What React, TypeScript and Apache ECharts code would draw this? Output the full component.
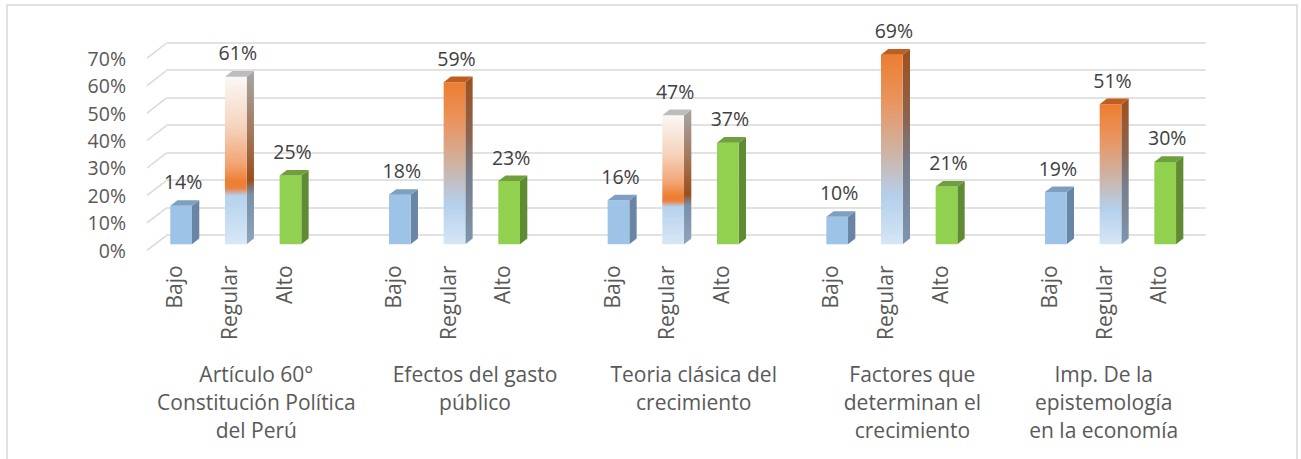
import React, { useEffect, useRef } from "react";
import * as echarts from "echarts";

// ---- data ----
const groups = [
  "Artículo 60°\nConstitución Política\ndel Perú",
  "Efectos del gasto\npúblico",
  "Teoria clásica del\ncrecimiento",
  "Factores que\ndeterminan el\ncrecimiento",
  "Imp. De la\nepistemología\nen la economía",
];
const levels = ["Bajo", "Regular", "Alto"];
const bajo = [0.14, 0.18, 0.16, 0.1, 0.19];
const regular = [0.61, 0.59, 0.47, 0.69, 0.51];
const alto = [0.25, 0.23, 0.37, 0.21, 0.3];
const yTicks = [0, 0.1, 0.2, 0.3, 0.4, 0.5, 0.6, 0.7];

// style of each "Regular" bar fill (light top = white→orange→blue, warm = orange→blue)
const regularShade = ["light", "warm", "light", "warm", "warm"];

// ---- layout / style constants ----
const FONT = "'Open Sans', 'Noto Sans', sans-serif";
const FS_NUM = 19.5;
const FS_TXT = 21;
const TXT = "#595959";
const GRID_LINE = "#D9D9D9";
const SLOTS = 19;
const SLOT_W = 54.67;
const PLOT_W = SLOTS * SLOT_W;
const PLOT_H = 192.3;
const DEPTH_X = 19;
const DEPTH_Y = 14.6;
const SIDE_X = 7.3;
const SIDE_Y = 5.7;

const categories: string[] = [];
groups.forEach((_, g) => {
  levels.forEach((l) => categories.push(l));
  if (g < groups.length - 1) categories.push("");
});

const seriesValues = [bajo, regular, alto];
const barData: number[][] = [];
groups.forEach((_, g) => {
  levels.forEach((_, l) => {
    barData.push([g * 4 + l, seriesValues[l][g], l, g]);
  });
});

const groupData = groups.map((_, g) => [
  g * 4,
  0,
  g < groups.length - 1 ? g * 4 + 3 : g * 4 + 2,
  g,
]);

const LG = (stops: [number, string][]) =>
  new echarts.graphic.LinearGradient(
    0,
    0,
    0,
    1,
    stops.map(([offset, color]) => ({ offset, color }))
  );

const solidColors: Record<number, { front: string; side: string; top: string }> = {
  0: { front: "#9DC3E6", side: "#6886A4", top: "#7E9FC1" },
  2: { front: "#92D050", side: "#5E8B33", top: "#6FA03D" },
};

const regularFill = (shade: string) =>
  shade === "light"
    ? {
        front: LG([
          [0, "#FBF8F6"],
          [0.3, "#F6D3BD"],
          [0.52, "#F1A575"],
          [0.63, "#ED7D31"],
          [0.665, "#EC8040"],
          [0.71, "#B6D2EE"],
          [1, "#D8E7F6"],
        ]),
        side: LG([
          [0, "#A6A6A6"],
          [0.35, "#A4785C"],
          [0.63, "#9A4E1C"],
          [0.71, "#7890A9"],
          [1, "#8EA3BA"],
        ]),
        top: "#BDBDBD",
      }
    : {
        front: LG([
          [0, "#ED7D31"],
          [0.25, "#E99560"],
          [0.52, "#CDB4A6"],
          [0.75, "#B4D0EC"],
          [1, "#D6E6F6"],
        ]),
        side: LG([
          [0, "#9E501C"],
          [0.35, "#8B6450"],
          [0.6, "#777E8C"],
          [1, "#7E95AE"],
        ]),
        top: "#BE5F20",
      };

export default function App() {
  const ref = useRef<HTMLDivElement>(null);

  useEffect(() => {
    document.body.style.margin = "0";
    const chart = echarts.init(ref.current!, undefined, { renderer: "svg" });

    const hiddenCat = (gridIndex: number, show = false) => ({
      type: "category" as const,
      gridIndex,
      data: categories,
      boundaryGap: true,
      axisLine: { show: false },
      axisTick: { show: false },
      axisLabel: show
        ? {
            show: true,
            interval: 0,
            rotate: 90,
            margin: 15,
            color: TXT,
            fontSize: FS_TXT,
            fontFamily: FONT,
          }
        : { show: false },
      splitLine: { show: false },
    });

    const valAxis = (gridIndex: number, opts: any = {}) => ({
      type: "value" as const,
      gridIndex,
      min: 0,
      max: 0.7,
      interval: 0.1,
      axisLine: { show: false },
      axisTick: { show: false },
      axisLabel: { show: false },
      splitLine: { show: false },
      ...opts,
    });

    chart.setOption({
      animation: false,
      backgroundColor: "#FFFFFF",
      graphic: [
        {
          type: "rect",
          shape: { x: 7, y: 5, width: 1290, height: 480 },
          style: { fill: "none", stroke: GRID_LINE, lineWidth: 1.5 },
          silent: true,
        },
      ],
      grid: [
        // bar plane
        { left: 153.8, top: 52, width: PLOT_W, height: PLOT_H },
        // front plane (labels)
        { left: 147, top: 57.3 + 0.8, width: PLOT_W, height: PLOT_H },
        // back wall (grid lines)
        { left: 166, top: 42.7, width: PLOT_W + 1, height: PLOT_H },
      ],
      xAxis: [hiddenCat(0), hiddenCat(1, true), hiddenCat(2)],
      yAxis: [
        valAxis(0),
        valAxis(1, {
          axisLabel: {
            show: true,
            margin: 21,
            color: TXT,
            fontSize: FS_NUM,
            fontFamily: FONT,
            formatter: (v: number) => Math.round(v * 100) + "%",
          },
        }),
        valAxis(2, {
          splitLine: { show: true, lineStyle: { color: GRID_LINE, width: 1.5 } },
        }),
      ],
      series: [
        {
          type: "custom",
          name: "side wall",
          xAxisIndex: 1,
          yAxisIndex: 1,
          silent: true,
          clip: false,
          data: yTicks.map((t) => [0, t]),
          renderItem: (_p: any, api: any) => {
            const p = api.coord([0, api.value(1)]);
            const sw = api.size([1, 0])[0];
            const x = p[0] - sw / 2;
            return {
              type: "line",
              shape: { x1: x, y1: p[1], x2: x + DEPTH_X, y2: p[1] - DEPTH_Y },
              style: { stroke: GRID_LINE, lineWidth: 1.5 },
            };
          },
        },
        {
          type: "custom",
          name: "bars",
          xAxisIndex: 0,
          yAxisIndex: 0,
          clip: false,
          data: barData,
          renderItem: (_p: any, api: any) => {
            const slot = api.value(0);
            const v = api.value(1);
            const lvl = api.value(2);
            const g = api.value(3);
            const top = api.coord([slot, v]);
            const base = api.coord([slot, 0]);
            const sw = api.size([1, 0])[0];
            const w = sw * 0.397;
            const x0 = top[0] - w / 2;
            const x1 = top[0] + w / 2;
            const y0 = top[1];
            const y1 = base[1];
            const c = lvl === 1 ? regularFill(regularShade[g]) : solidColors[lvl];
            return {
              type: "group",
              children: [
                {
                  type: "polygon",
                  shape: {
                    points: [
                      [x1, y0],
                      [x1 + SIDE_X, y0 - SIDE_Y],
                      [x1 + SIDE_X, y1 - SIDE_Y],
                      [x1, y1],
                    ],
                  },
                  style: { fill: c.side },
                },
                {
                  type: "rect",
                  shape: { x: x0, y: y0, width: w, height: y1 - y0 },
                  style: { fill: c.front },
                },
                {
                  type: "polygon",
                  shape: {
                    points: [
                      [x0, y0],
                      [x0 + SIDE_X, y0 - SIDE_Y],
                      [x1 + SIDE_X, y0 - SIDE_Y],
                      [x1, y0],
                    ],
                  },
                  style: { fill: c.top },
                },
                {
                  type: "text",
                  x: top[0] + 2,
                  y: y0 - 24,
                  style: {
                    text: Math.round(v * 100) + "%",
                    fill: "#404040",
                    fontSize: FS_NUM,
                    fontFamily: FONT,
                    align: "center",
                    verticalAlign: "middle",
                  },
                },
              ],
            };
          },
        },
        {
          type: "custom",
          name: "group labels",
          xAxisIndex: 1,
          yAxisIndex: 1,
          clip: false,
          silent: true,
          data: groupData,
          renderItem: (_p: any, api: any) => {
            const a = api.coord([api.value(0), 0]);
            const b = api.coord([api.value(2), 0]);
            return {
              type: "text",
              x: (a[0] + b[0]) / 2,
              y: a[1] + 109,
              style: {
                text: groups[api.value(3)],
                fill: TXT,
                fontSize: FS_TXT,
                fontFamily: FONT,
                lineHeight: 28.3,
                align: "center",
                verticalAlign: "top",
              },
            };
          },
        },
      ],
    });

    return () => chart.dispose();
  }, []);

  return <div ref={ref} style={{ width: 1301, height: 459 }} />;
}
